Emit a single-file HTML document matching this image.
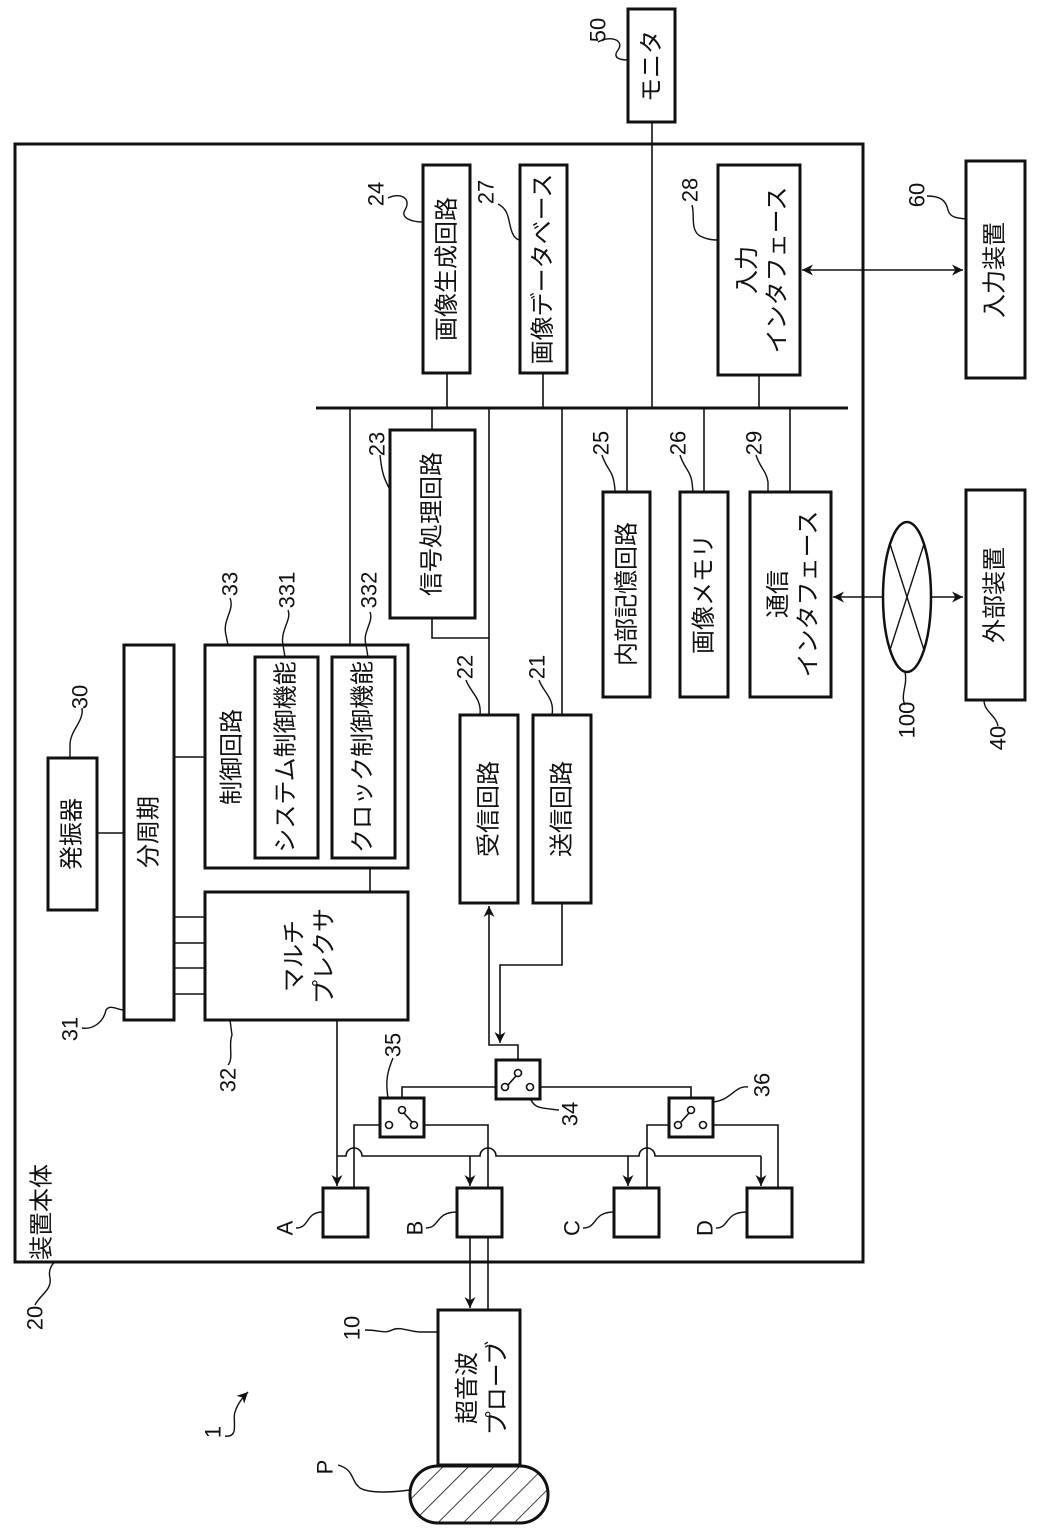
<!DOCTYPE html>
<html><head><meta charset="utf-8"><style>
html,body{margin:0;padding:0;background:#fff}
svg{display:block}
text{font-family:"Liberation Sans","Noto Sans CJK JP",sans-serif;fill:#111}
.b{fill:#fff;stroke:#111;stroke-width:3}
.l{fill:none;stroke:#111;stroke-width:1.6}
.q{fill:none;stroke:#111;stroke-width:1.4}
.t{font-size:24px}
.n{font-size:22px}
</style></head><body>
<svg width="1039" height="1528" viewBox="0 0 1039 1528" xmlns="http://www.w3.org/2000/svg">
<defs>
<marker id="a" viewBox="0 0 10 10" refX="10" refY="5" markerWidth="11" markerHeight="11" markerUnits="userSpaceOnUse" orient="auto-start-reverse"><path d="M0,0 L10,5 L0,10 L3,5 z" fill="#111"/></marker>
<pattern id="h" patternUnits="userSpaceOnUse" width="18" height="18" patternTransform="rotate(45)"><line x1="0" y1="0" x2="0" y2="18" stroke="#111" stroke-width="1.6"/></pattern>
</defs>

<rect x="15" y="144" width="848" height="1118" fill="none" stroke="#111" stroke-width="3"/>

<rect class="b" x="628" y="9" width="47" height="113"/>
<text class="t" transform="translate(652,66) rotate(-90)" text-anchor="middle" dominant-baseline="central">モニタ</text>
<line class="l" x1="652" y1="122" x2="652" y2="408"/>

<line x1="316" y1="408" x2="848" y2="408" stroke="#111" stroke-width="3"/>

<rect class="b" x="423" y="165" width="47" height="208"/>
<text class="t" transform="translate(447,269) rotate(-90)" text-anchor="middle" dominant-baseline="central">画像生成回路</text>
<line class="l" x1="447" y1="373" x2="447" y2="408"/>
<rect class="b" x="520" y="165" width="47" height="208"/>
<text class="t" transform="translate(543,269) rotate(-90)" text-anchor="middle" dominant-baseline="central">画像データベース</text>
<line class="l" x1="543" y1="373" x2="543" y2="408"/>
<rect class="b" x="718" y="165" width="82" height="210"/>
<text class="t" transform="translate(759,270) rotate(-90)" text-anchor="middle"><tspan x="0" dy="-4">入力</tspan><tspan x="0" dy="30">インタフェース</tspan></text>
<line class="l" x1="759" y1="375" x2="759" y2="408"/>
<line class="l" x1="802" y1="270" x2="963" y2="270" marker-start="url(#a)" marker-end="url(#a)"/>
<rect class="b" x="966" y="161" width="59" height="217"/>
<text class="t" transform="translate(995,270) rotate(-90)" text-anchor="middle" dominant-baseline="central">入力装置</text>

<rect class="b" x="390" y="430" width="85" height="188"/>
<text class="t" transform="translate(432,524) rotate(-90)" text-anchor="middle" dominant-baseline="central">信号処理回路</text>
<line class="l" x1="432" y1="408" x2="432" y2="430"/>
<polyline class="l" points="432,618 432,638 489,638"/>
<line class="l" x1="489" y1="408" x2="489" y2="715"/>
<line class="l" x1="562" y1="408" x2="562" y2="715"/>
<line class="l" x1="350" y1="408" x2="350" y2="645"/>

<rect class="b" x="603" y="492" width="47" height="205"/>
<text class="t" transform="translate(627,594) rotate(-90)" text-anchor="middle" dominant-baseline="central">内部記憶回路</text>
<line class="l" x1="627" y1="408" x2="627" y2="492"/>
<rect class="b" x="680" y="492" width="48" height="205"/>
<text class="t" transform="translate(704,594) rotate(-90)" text-anchor="middle" dominant-baseline="central">画像メモリ</text>
<line class="l" x1="704" y1="408" x2="704" y2="492"/>
<rect class="b" x="750" y="492" width="81" height="205"/>
<text class="t" transform="translate(790,594) rotate(-90)" text-anchor="middle"><tspan x="0" dy="-4">通信</tspan><tspan x="0" dy="30">インタフェース</tspan></text>
<line class="l" x1="790" y1="408" x2="790" y2="492"/>

<line class="l" x1="833" y1="597" x2="883" y2="597" marker-start="url(#a)"/>
<ellipse cx="907" cy="597" rx="24" ry="75" fill="#fff" stroke="#111" stroke-width="2.5"/>
<line class="q" x1="890" y1="544" x2="924" y2="650"/>
<line class="q" x1="924" y1="544" x2="890" y2="650"/>
<line class="l" x1="931" y1="597" x2="963" y2="597" marker-end="url(#a)"/>
<rect class="b" x="966" y="490" width="59" height="210"/>
<text class="t" transform="translate(995,595) rotate(-90)" text-anchor="middle" dominant-baseline="central">外部装置</text>

<rect class="b" x="460" y="715" width="58" height="188"/>
<text class="t" transform="translate(489,809) rotate(-90)" text-anchor="middle" dominant-baseline="central">受信回路</text>
<rect class="b" x="533" y="715" width="58" height="188"/>
<text class="t" transform="translate(562,809) rotate(-90)" text-anchor="middle" dominant-baseline="central">送信回路</text>

<rect class="b" x="48" y="758" width="49" height="152"/>
<text class="t" transform="translate(72,834) rotate(-90)" text-anchor="middle" dominant-baseline="central">発振器</text>
<line class="l" x1="97" y1="833" x2="124" y2="833"/>
<rect class="b" x="124" y="645" width="50" height="375"/>
<text class="t" transform="translate(149,832) rotate(-90)" text-anchor="middle" dominant-baseline="central">分周期</text>
<line class="l" x1="174" y1="757" x2="205" y2="757"/>
<rect class="b" x="205" y="645" width="203" height="223"/>
<text class="t" transform="translate(232,757) rotate(-90)" text-anchor="middle" dominant-baseline="central">制御回路</text>
<rect class="b" x="255" y="657" width="63" height="201"/>
<text class="t" transform="translate(286,757) rotate(-90)" text-anchor="middle" dominant-baseline="central">システム制御機能</text>
<rect class="b" x="332" y="657" width="63" height="201"/>
<text class="t" transform="translate(363,757) rotate(-90)" text-anchor="middle" dominant-baseline="central">クロック制御機能</text>
<line class="l" x1="370" y1="868" x2="370" y2="892"/>
<rect class="b" x="205" y="892" width="203" height="128"/>
<text class="t" transform="translate(306,956) rotate(-90)" text-anchor="middle"><tspan x="0" dy="-4">マルチ</tspan><tspan x="0" dy="30">プレクサ</tspan></text>
<line class="l" x1="174" y1="917" x2="205" y2="917"/>
<line class="l" x1="174" y1="943" x2="205" y2="943"/>
<line class="l" x1="174" y1="968" x2="205" y2="968"/>
<line class="l" x1="174" y1="994" x2="205" y2="994"/>

<polyline class="l" points="489,906 489,1045 518,1045 518,1060" marker-start="url(#a)"/>
<polyline class="l" points="562,903 562,965 500,965 500,1043" marker-end="url(#a)"/>

<g>
<rect class="b" x="496" y="1060" width="44" height="39"/>
<circle cx="518" cy="1073" r="3.5" fill="#fff" stroke="#111" stroke-width="1.6"/>
<circle cx="505" cy="1087" r="3.5" fill="#fff" stroke="#111" stroke-width="1.6"/>
<circle cx="530" cy="1087" r="3.5" fill="#fff" stroke="#111" stroke-width="1.6"/>
<line class="l" x1="508" y1="1085" x2="516" y2="1076"/>
</g>
<g>
<rect class="b" x="380" y="1098" width="44" height="39"/>
<circle cx="402" cy="1110" r="3.5" fill="#fff" stroke="#111" stroke-width="1.6"/>
<circle cx="389" cy="1125" r="3.5" fill="#fff" stroke="#111" stroke-width="1.6"/>
<circle cx="414" cy="1125" r="3.5" fill="#fff" stroke="#111" stroke-width="1.6"/>
<line class="l" x1="404" y1="1113" x2="412" y2="1122"/>
</g>
<g>
<rect class="b" x="669" y="1098" width="44" height="39"/>
<circle cx="691" cy="1110" r="3.5" fill="#fff" stroke="#111" stroke-width="1.6"/>
<circle cx="678" cy="1125" r="3.5" fill="#fff" stroke="#111" stroke-width="1.6"/>
<circle cx="703" cy="1125" r="3.5" fill="#fff" stroke="#111" stroke-width="1.6"/>
<line class="l" x1="681" y1="1122" x2="689" y2="1113"/>
</g>
<polyline class="l" points="496,1087 402,1087 402,1098"/>
<polyline class="l" points="540,1087 691,1087 691,1098"/>
<polyline class="l" points="380,1125 354,1125 354,1188"/>
<polyline class="l" points="424,1125 488,1125 488,1188"/>
<polyline class="l" points="669,1125 647,1125 647,1188"/>
<polyline class="l" points="713,1125 778,1125 778,1188"/>

<line class="l" x1="337" y1="1020" x2="337" y2="1186" marker-end="url(#a)"/>
<path class="l" d="M337,1156 L346,1156 A8,8 0 0 1 362,1156 L480,1156 A8,8 0 0 1 496,1156 L639,1156 A8,8 0 0 1 655,1156 L761,1156"/>
<line class="l" x1="470" y1="1156" x2="470" y2="1186" marker-end="url(#a)"/>
<line class="l" x1="628" y1="1156" x2="628" y2="1186" marker-end="url(#a)"/>
<line class="l" x1="761" y1="1156" x2="761" y2="1186" marker-end="url(#a)"/>

<rect class="b" x="323" y="1188" width="45" height="49"/>
<rect class="b" x="457" y="1188" width="45" height="49"/>
<rect class="b" x="614" y="1188" width="45" height="49"/>
<rect class="b" x="747" y="1188" width="45" height="49"/>

<line class="l" x1="470" y1="1237" x2="470" y2="1308" marker-end="url(#a)"/>
<line class="l" x1="488" y1="1237" x2="488" y2="1310"/>
<rect class="b" x="438" y="1310" width="82" height="155"/>
<text class="t" transform="translate(479,1388) rotate(-90)" text-anchor="middle"><tspan x="0" dy="-4">超音波</tspan><tspan x="0" dy="30">プローブ</tspan></text>
<rect x="410" y="1466" width="138" height="57" rx="28" fill="url(#h)" stroke="#111" stroke-width="3"/>

<g class="n" text-anchor="middle" dominant-baseline="central">
<text transform="translate(598,30) rotate(-90)">50</text>
<text transform="translate(376,194) rotate(-90)">24</text>
<text transform="translate(486,192) rotate(-90)">27</text>
<text transform="translate(690,190) rotate(-90)">28</text>
<text transform="translate(917,195) rotate(-90)">60</text>
<text transform="translate(377,444) rotate(-90)">23</text>
<text transform="translate(601,443) rotate(-90)">25</text>
<text transform="translate(678,443) rotate(-90)">26</text>
<text transform="translate(754,443) rotate(-90)">29</text>
<text transform="translate(230,584) rotate(-90)">33</text>
<text transform="translate(287,590) rotate(-90)">331</text>
<text transform="translate(369,590) rotate(-90)">332</text>
<text transform="translate(80,697) rotate(-90)">30</text>
<text transform="translate(465,667) rotate(-90)">22</text>
<text transform="translate(537,667) rotate(-90)">21</text>
<text transform="translate(907,720) rotate(-90)">100</text>
<text transform="translate(998,738) rotate(-90)">40</text>
<text transform="translate(70,1029) rotate(-90)">31</text>
<text transform="translate(228,1080) rotate(-90)">32</text>
<text transform="translate(393,1045) rotate(-90)">35</text>
<text transform="translate(570,1114) rotate(-90)">34</text>
<text transform="translate(762,1085) rotate(-90)">36</text>
<text transform="translate(285,1228) rotate(-90)">A</text>
<text transform="translate(415,1228) rotate(-90)">B</text>
<text transform="translate(572,1228) rotate(-90)">C</text>
<text transform="translate(705,1228) rotate(-90)">D</text>
<text transform="translate(35,1318) rotate(-90)">20</text>
<text transform="translate(352,1328) rotate(-90)">10</text>
<text transform="translate(325,1467) rotate(-90)">P</text>
<text transform="translate(213,1432) rotate(-90)">1</text>
</g>
<text class="t" transform="translate(42,1212) rotate(-90)" text-anchor="middle" dominant-baseline="central">装置本体</text>

<g class="q">
<path d="M598,42 C610,35 625,40 618,50 C612,58 620,60 628,60"/>
<path d="M388,198 C400,192 412,198 405,210 C400,218 412,222 423,222"/>
<path d="M498,204 C510,210 508,222 512,232 C514,238 518,240 520,240"/>
<path d="M692,205 C695,215 690,230 700,236 C708,240 714,240 718,240"/>
<path d="M927,196 C940,196 946,200 948,210 C950,218 958,218 966,219"/>
<path d="M380,455 C382,475 385,480 390,490"/>
<path d="M602,455 C606,468 612,470 614,482 C615,488 615,490 615,492"/>
<path d="M680,455 C684,468 690,470 692,482 L693,492"/>
<path d="M756,455 C760,468 766,470 768,482 L768,492"/>
<path d="M230,598 C235,610 222,620 226,635 L228,645"/>
<path d="M288,610 C292,620 280,630 283,645 L285,657"/>
<path d="M370,612 C374,622 362,632 366,645 L368,657"/>
<path d="M82,708 C84,722 70,730 70,745 L70,758"/>
<path d="M466,680 C470,692 482,698 480,715"/>
<path d="M539,680 C543,692 555,698 552,715"/>
<path d="M905,672 C908,685 900,695 905,705"/>
<path d="M998,726 C996,715 984,712 984,700"/>
<path d="M82,1028 C95,1030 104,1020 106,1010 C110,1004 118,1010 124,1010"/>
<path d="M228,1065 C234,1058 228,1045 232,1035 L230,1020"/>
<path d="M393,1058 C388,1070 385,1080 388,1098"/>
<path d="M559,1110 C540,1108 535,1108 531,1100 L530,1099"/>
<path d="M748,1087 C735,1085 732,1100 713,1102"/>
<path d="M296,1228 C310,1228 305,1212 323,1212"/>
<path d="M426,1228 C440,1228 435,1212 457,1212"/>
<path d="M583,1228 C598,1228 592,1212 614,1212"/>
<path d="M716,1228 C730,1228 724,1212 747,1212"/>
<path d="M35,1305 C40,1295 52,1290 50,1278 C48,1270 52,1264 55,1262"/>
<path d="M365,1330 C380,1330 385,1334 392,1330 C400,1326 410,1332 420,1332 L438,1332"/>
<path d="M338,1465 C355,1470 350,1480 360,1488 C370,1494 395,1492 410,1490"/>
<path d="M225,1436 C240,1438 232,1420 235,1412 C238,1402 245,1395 248,1392" marker-end="url(#a)"/>
</g>
</svg>
</body></html>
